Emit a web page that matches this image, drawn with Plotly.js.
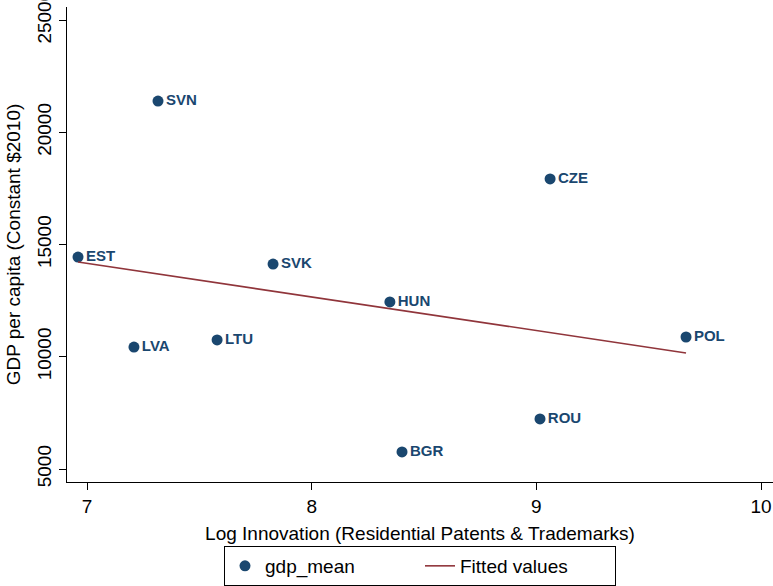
<!DOCTYPE html>
<html>
<head>
<meta charset="utf-8">
<script src="https://cdn.plot.ly/plotly-3.0.1.min.js"></script>
<style>html,body{margin:0;padding:0;background:#fff;}#chart{width:773px;height:586px;}</style>
</head>
<body>
<div id="chart"></div>
<script>
// Data
var countries = ["EST", "SVN", "SVK", "LVA", "LTU", "HUN", "BGR", "ROU", "CZE", "POL"];
var logInnovation = [6.96, 7.316, 7.828, 7.209, 7.579, 8.348, 8.402, 9.016, 9.061, 9.666];
var gdpMean = [14440, 21390, 14130, 10430, 10750, 12440, 5760, 7230, 17920, 10880];
var fittedX = [6.96, 9.666];
var fittedY = [14220, 10170];
var xTicks = [7, 8, 9, 10];
var yTicks = [5000, 10000, 15000, 20000, 25000];

var navy = "#1a476f";
var maroon = "#90353b";
var fontFam = "Liberation Sans, Arial, Helvetica, sans-serif";

var traces = [
  {
    x: logInnovation, y: gdpMean, text: countries,
    type: "scatter", mode: "markers+text", name: "gdp_mean",
    textposition: "middle right",
    textfont: {family: fontFam, size: 15, color: navy, weight: "bold"},
    marker: {color: navy, size: 11},
    cliponaxis: false
  },
  {
    x: fittedX, y: fittedY,
    type: "scatter", mode: "lines", name: "Fitted values",
    line: {color: maroon, width: 1.6}
  }
];

var layout = {
  width: 773, height: 586,
  margin: {l: 67, r: 0, t: 7, b: 104},
  paper_bgcolor: "#fff", plot_bgcolor: "#fff",
  font: {family: fontFam, size: 19, color: "#000"},
  showlegend: true,
  xaxis: {
    range: [6.911, 10.053],
    tickvals: xTicks, ticktext: xTicks.map(String),
    ticks: "outside", ticklen: 7, tickcolor: "#000", tickwidth: 1,
    showline: true, linecolor: "#000", linewidth: 1,
    showgrid: false, zeroline: false,
    tickfont: {size: 19},
    ticklabeloverflow: "allow",
    title: {text: "Log Innovation (Residential Patents & Trademarks)", font: {size: 19}, standoff: 10}
  },
  yaxis: {
    range: [4421, 25579],
    tickvals: yTicks, ticktext: yTicks.map(String),
    tickangle: -90,
    ticks: "outside", ticklen: 7, tickcolor: "#000", tickwidth: 1,
    showline: true, linecolor: "#000", linewidth: 1,
    showgrid: false, zeroline: false,
    tickfont: {size: 19},
    ticklabeloverflow: "allow",
    title: {text: "GDP per capita (Constant $2010)", font: {size: 19}, standoff: 8}
  },
  legend: {
    orientation: "h", x: 0.5, xanchor: "center", y: -0.1347, yanchor: "top",
    bordercolor: "#000", borderwidth: 1, bgcolor: "#fff",
    font: {size: 19},
    entrywidth: 150
  }
};

Plotly.newPlot("chart", traces, layout, {displayModeBar: false, staticPlot: true});
</script>
</body>
</html>
